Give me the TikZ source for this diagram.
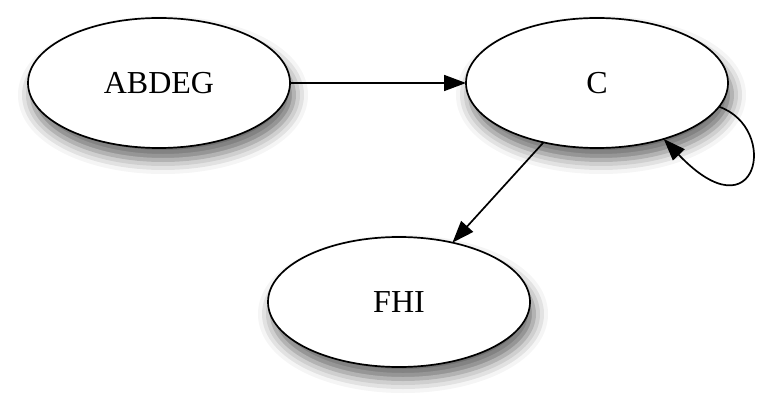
\documentclass[tikz,border=0pt]{standalone}
\usepackage{fontspec}
\setmainfont{Liberation Serif}
\usetikzlibrary{shapes.geometric,shadows.blur,arrows.meta}
\tikzset{
  stateellipse/.style={ellipse, draw=black, line width=1.7pt, fill=white,
    minimum width=262pt, minimum height=130pt, inner sep=0pt, outer sep=0pt,
    font=\fontsize{32}{38}\selectfont,
    blur shadow={shadow xshift=4pt, shadow yshift=-12pt, shadow blur radius=14pt, shadow opacity=60}},
  edgearrow/.style={line width=1.7pt, -{Triangle[length=22pt,width=16pt]}}
}
\begin{document}
\begin{tikzpicture}[x=1pt,y=-1pt]
\useasboundingbox (0,0) rectangle (757,406);
\node[stateellipse] (ABDEG) at (159,83) {ABDEG};
\node[stateellipse] (C) at (597,83) {C};
\node[stateellipse] (FHI) at (399,302) {FHI};
\draw[edgearrow] (ABDEG) -- (C);
\draw[edgearrow] (C.-132) -- (FHI.48);
\draw[edgearrow] (C.-11.5) .. controls (780,128) and (758,238) .. (C.-40);
\end{tikzpicture}
\end{document}
